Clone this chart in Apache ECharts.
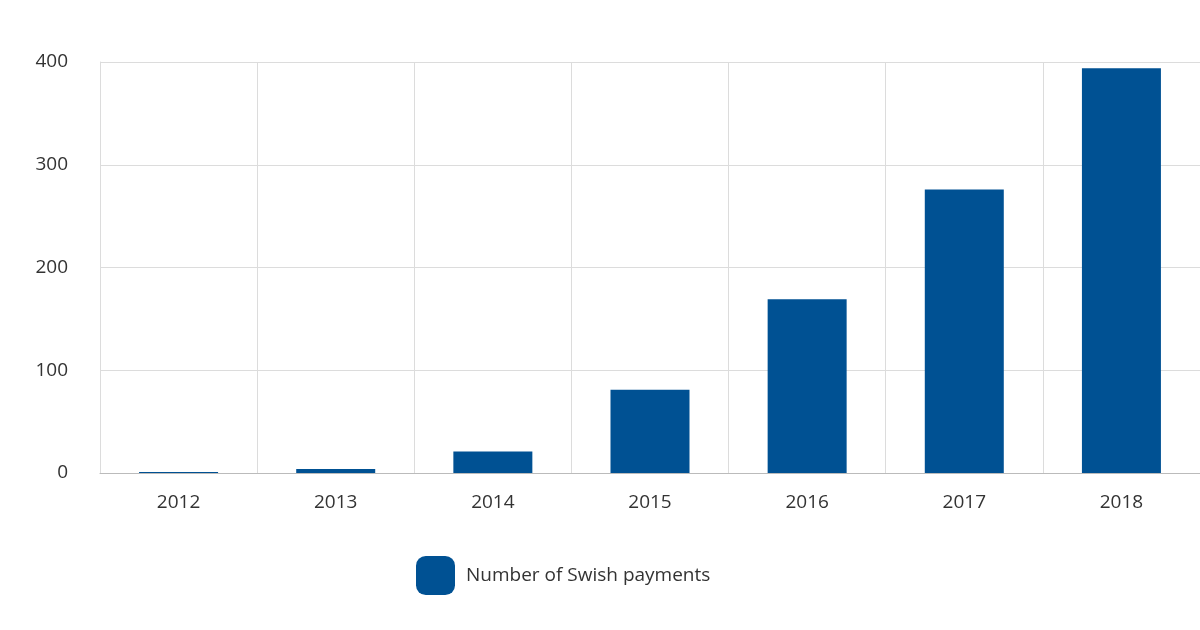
<!DOCTYPE html>
<html><head><meta charset="utf-8">
<script src="https://cdn.jsdelivr.net/npm/echarts@6/dist/echarts.min.js"></script>
<style>html,body{margin:0;padding:0;background:#fff}#c{width:1200px;height:630px}</style>
</head><body><div id="c"></div>
<script>
const categories = ['2012','2013','2014','2015','2016','2017','2018'];
const payments = [1, 4, 21, 81, 169, 276, 394];
const seriesName = 'Number of Swish payments';
const chart = echarts.init(document.getElementById('c'));
chart.setOption({
  animation: false,
  grid: {left: 100, right: -4, top: 62, bottom: 157},
  legend: {
    data: [seriesName], left: 411, top: 551, itemWidth: 39, itemHeight: 39, itemGap: 10,
    icon: 'roundRect',
    textStyle: {fontFamily: 'Open Sans', fontSize: 19, color: '#333', padding: [0,0,0,6]}
  },
  xAxis: {
    type: 'category', data: categories,
    axisTick: {show: false},
    axisLine: {lineStyle: {color: '#bbb'}},
    axisLabel: {fontFamily: 'Open Sans', fontSize: 19, color: '#333', margin: 20},
    splitLine: {show: true, lineStyle: {color: '#dcdcdc'}}
  },
  yAxis: {
    type: 'value', min: 0, max: 400, interval: 100,
    axisLabel: {fontFamily: 'Open Sans', fontSize: 19, color: '#333', margin: 32},
    splitLine: {lineStyle: {color: '#dcdcdc'}},
    axisLine: {show: true, lineStyle: {color: '#dcdcdc'}}
  },
  series: [{
    name: seriesName, type: 'bar', data: payments, barWidth: 79,
    itemStyle: {color: '#005193'}
  }]
});
</script></body></html>
